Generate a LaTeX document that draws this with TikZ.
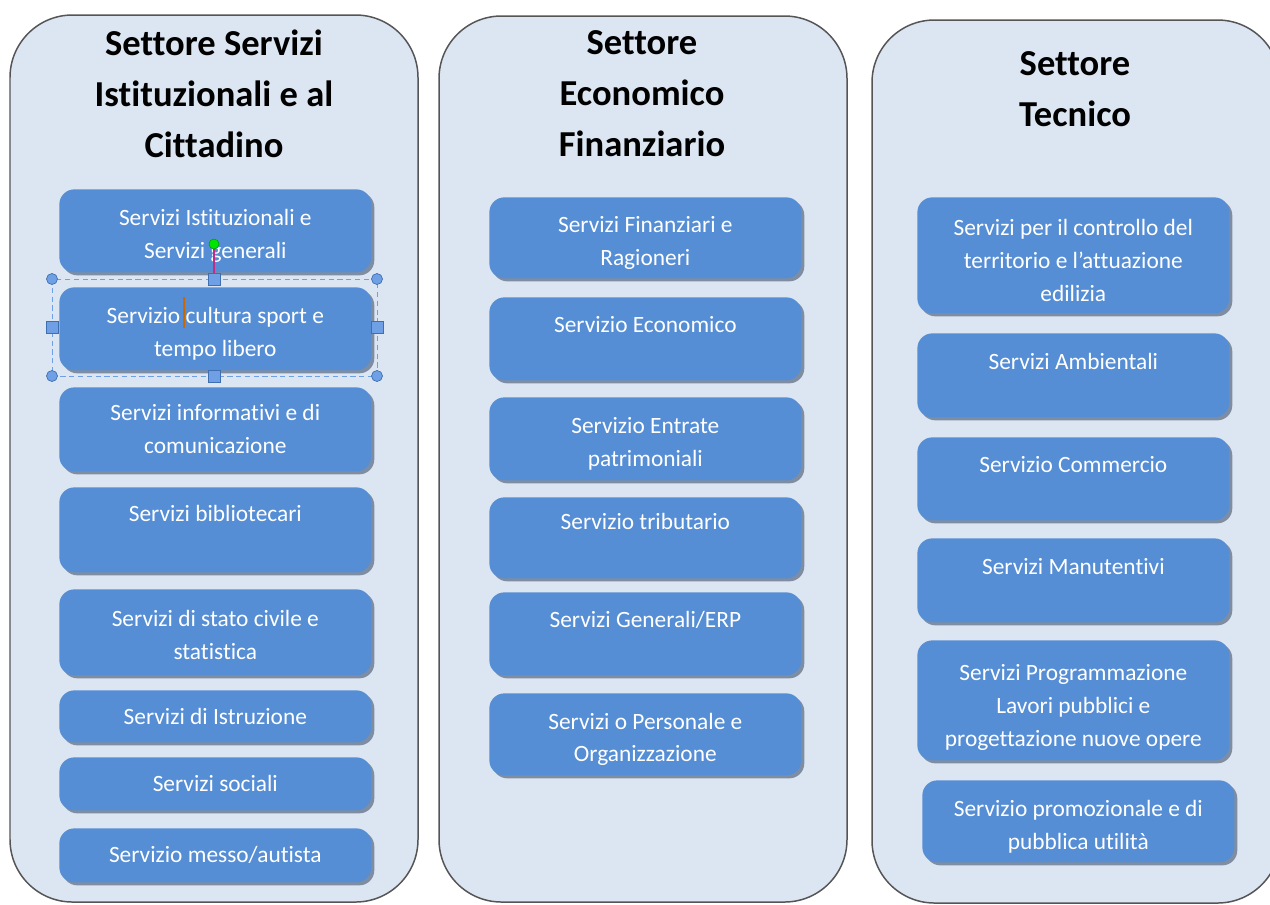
\documentclass[tikz,border=0pt]{standalone}
\usepackage{fontspec}
\setmainfont{Carlito}[Ligatures=NoCommon]
\usepackage{xcolor}
\usetikzlibrary{shadows}
\definecolor{sectorfill}{HTML}{DCE6F2}
\definecolor{sectorborder}{HTML}{555555}
\definecolor{svcblue}{HTML}{558ED5}
\definecolor{svcshadow}{HTML}{7F8DA3}
\definecolor{handleblue}{HTML}{6FA0E6}
\definecolor{handleedge}{HTML}{3F6FB0}
\newcommand{\svcfont}{\fontsize{13.3}{18.7}\selectfont}
\newcommand{\titlefont}{\bfseries\fontsize{20.8}{28.9}\selectfont}
\tikzset{
    sector/.style={draw=sectorborder, fill=sectorfill, line width=0.85pt, rounded corners=1.25cm},
    svc/.style={rectangle, fill=svcblue, rounded corners=0.3cm, anchor=north west,
        minimum width=6.24cm, inner sep=0pt,
        general shadow={fill=svcshadow, shadow xshift=0.06cm, shadow yshift=-0.06cm}},
    svctext/.style={align=center, text=white, font=\svcfont, yshift=-0.1cm},
    svcone/.style={svctext, yshift=0.1cm},
    title/.style={align=center, font=\titlefont},
    selbox/.style={draw=handleblue, densely dashed, line width=0.4pt},
    handle/.style={fill=handleblue, draw=handleedge, line width=0.4pt},
    handlesq/.style={rectangle, fill=handleblue, draw=handleedge, line width=0.4pt, minimum size=0.24cm, inner sep=0pt}}

\begin{document}
\begin{tikzpicture}[x=0.02cm, y=-0.02cm]
    \useasboundingbox (0,0) rectangle (1270,904);
    \clip (0,0) rectangle (1270,904);
    % sectors
    \draw[sector] (10,15) rectangle (418,902);
    \draw[sector] (439,16) rectangle (847,902);
    \draw[sector] (872,20) rectangle (1280,903);
    \node[title] (t1) at (214,94) {Settore Servizi\\Istituzionali e al\\Cittadino};
    \node[title] (t2) at (642,93.5) {Settore\\Economico\\Finanziario};
    \node[title] (t3) at (1075,89) {Settore\\Tecnico};
    % Settore Servizi Istituzionali e al Cittadino
    \node[svc, minimum height=1.66cm, label={[svctext]center:{Servizi Istituzionali e\\Servizi generali}}] (s11) at (59,189) {};
    \node[svc, minimum height=1.66cm, label={[svctext]center:{Servizio cultura sport e\\tempo libero}}] (s12) at (59,287) {};
    \node[svc, minimum height=1.68cm, label={[svcone]center:{Servizi informativi e di\\comunicazione}}] (s13) at (59,387) {};
    \node[svc, minimum height=1.70cm, label={[svctext]center:{Servizi bibliotecari\\\strut}}] (s14) at (59,487) {};
    \node[svc, minimum height=1.72cm, label={[svctext, yshift=0.05cm]center:{Servizi di stato civile e\\statistica}}] (s15) at (59,589) {};
    \node[svc, minimum height=1.04cm, label={[svcone]center:{Servizi di Istruzione}}] (s16) at (59,690) {};
    \node[svc, minimum height=1.06cm, label={[svcone]center:{Servizi sociali}}] (s17) at (59,757) {};
    \node[svc, minimum height=1.08cm, label={[svcone]center:{Servizio messo/autista}}] (s18) at (59,828) {};
    % Settore Economico Finanziario
    \node[svc, minimum height=1.62cm, label={[svctext]center:{Servizi Finanziari e\\Ragioneri}}] (s21) at (489,197) {};
    \node[svc, minimum height=1.66cm, label={[svctext, yshift=-0.04cm]center:{Servizio Economico\\\strut}}] (s22) at (489,297) {};
    \node[svc, minimum height=1.66cm, label={[svctext]center:{Servizio Entrate\\patrimoniali}}] (s23) at (489,397) {};
    \node[svc, minimum height=1.62cm, label={[svctext]center:{Servizio tributario\\\strut}}] (s24) at (489,497) {};
    \node[svc, minimum height=1.66cm, label={[svctext, yshift=-0.04cm]center:{Servizi Generali/ERP\\\strut}}] (s25) at (489,592) {};
    \node[svc, minimum height=1.64cm, label={[svctext]center:{Servizi o Personale e\\Organizzazione}}] (s26) at (489,693) {};
    % Settore Tecnico
    \node[svc, minimum height=2.32cm, label={[svctext]center:{Servizi per il controllo del\\territorio e l’attuazione\\edilizia}}] (s31) at (917,197) {};
    \node[svc, minimum height=1.68cm, label={[svctext, yshift=-0.04cm]center:{Servizi Ambientali\\\strut}}] (s32) at (917,333) {};
    \node[svc, minimum height=1.66cm, label={[svctext, yshift=-0.04cm]center:{Servizio Commercio\\\strut}}] (s33) at (917,437) {};
    \node[svc, minimum height=1.68cm, label={[svctext, yshift=-0.04cm]center:{Servizi Manutentivi\\\strut}}] (s34) at (917,538) {};
    \node[svc, minimum height=2.40cm, label={[svctext, yshift=-0.04cm]center:{Servizi Programmazione\\Lavori pubblici e\\progettazione nuove opere}}] (s35) at (917,640) {};
    \node[svc, minimum height=1.64cm, label={[svctext]center:{Servizio promozionale e di\\pubblica utilità}}] (s36) at (922,780) {};
    % selection handles
    \draw[selbox] (52,279) rectangle (377,376);
    \foreach \x/\y in {52/279, 377/279, 52/376, 377/376}
        \filldraw[handle] (\x,\y) circle (0.11cm);
    \foreach \x/\y in {214/279, 214/376, 52/327, 377/327}
        \node[handlesq] at (\x,\y) {};
    \draw[draw=magenta!80!black, line width=0.6pt] (214,247) -- (214,273);
    \filldraw[fill=green!90!black, draw=green!60!black, line width=0.3pt] (214,244) circle (0.1cm);
    \draw[draw=orange!80!black, line width=1.2pt] (184,297) -- (184,328);
\end{tikzpicture}
\end{document}
